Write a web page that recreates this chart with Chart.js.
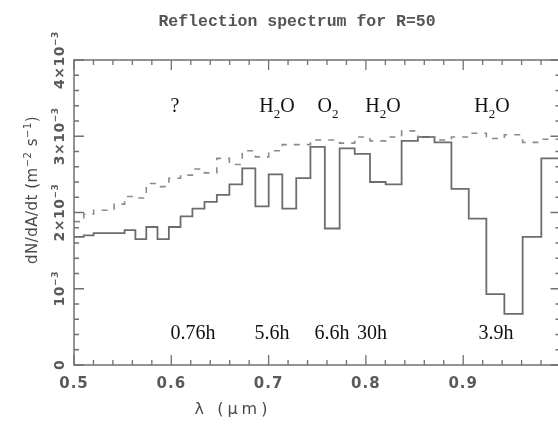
<!DOCTYPE html>
<html>
<head>
<meta charset="utf-8">
<script src="https://cdn.jsdelivr.net/npm/chart.js@4/dist/chart.umd.min.js"></script>
<style>
  html, body { margin: 0; padding: 0; background: #fff; overflow: hidden; }
  #wrap { width: 575px; height: 427px; }
</style>
</head>
<body>
<div id="wrap"><canvas id="c" width="575" height="427"></canvas></div>
<script>
// Wavelength bin edges in µm (constant resolving power R = 50)
const binEdges = [0.5000, 0.5100, 0.5202, 0.5306, 0.5412, 0.5520, 0.5631, 0.5743, 0.5858,
  0.5975, 0.6095, 0.6217, 0.6341, 0.6468, 0.6597, 0.6729, 0.6864, 0.7001, 0.7141, 0.7284,
  0.7430, 0.7578, 0.7730, 0.7885, 0.8042, 0.8203, 0.8367, 0.8534, 0.8705, 0.8879, 0.9057,
  0.9238, 0.9423, 0.9611, 0.9803, 1.0000];

// Reflected photon flux per bin, in units of 10^-3 m^-2 s^-1
const fluxAbsorbed = [1.68, 1.70, 1.73, 1.73, 1.73, 1.77, 1.65, 1.81, 1.65, 1.81, 1.95, 2.05,
  2.14, 2.23, 2.37, 2.58, 2.08, 2.50, 2.05, 2.45, 2.86, 1.79, 2.84, 2.77, 2.40, 2.37, 2.94,
  2.99, 2.92, 2.31, 1.92, 0.93, 0.67, 1.68, 2.71];
const fluxContinuum = [1.88, 1.98, 2.03, 2.03, 2.11, 2.21, 2.19, 2.38, 2.34, 2.45, 2.49, 2.57,
  2.52, 2.71, 2.63, 2.81, 2.73, 2.81, 2.89, 2.89, 2.95, 2.95, 2.91, 2.99, 2.94, 2.99, 3.07,
  2.99, 2.95, 2.99, 3.04, 2.97, 3.02, 2.92, 2.96];

// Axis ticks
const xTickValues = [0.5, 0.6, 0.7, 0.8, 0.9];
const xTickLabels = ['0.5', '0.6', '0.7', '0.8', '0.9'];
const yTickValues = [0, 1, 2, 3, 4];
const yTickLabels = ['0', '10^{−3}', '2×10^{−3}', '3×10^{−3}', '4×10^{−3}'];

// Absorber names and integration times for the bands
const bandNames = ['?', 'H_{2}O', 'O_{2}', 'H_{2}O', 'H_{2}O'];
const bandLambda = [0.6038, 0.7086, 0.7610, 0.8176, 0.9296];
const bandTimes = ['0.76h', '5.6h', '6.6h', '30h', '3.9h'];
const timeLambda = [0.6223, 0.7035, 0.7652, 0.8063, 0.9337];
const bandLevel = 3.41;
const timeLevel = 0.43;

const titleText = 'Reflection spectrum for R=50';
const xTitle = 'λ (μm)';
const yTitle = 'dN/dA/dt (m^{−2} s^{−1})';

// Histogram outline: one point per left bin edge, closed at the last edge
function stepPoints(values) {
  const pts = values.map((v, i) => ({ x: binEdges[i], y: v }));
  pts.push({ x: binEdges[binEdges.length - 1], y: values[values.length - 1] });
  return pts;
}

// Split "a^{b}c_{d}" into runs: 0 normal, 1 superscript, -1 subscript
function parseRich(s) {
  const parts = [];
  const re = /(\^\{[^}]*\}|_\{[^}]*\})/g;
  let last = 0, m;
  while ((m = re.exec(s)) !== null) {
    if (m.index > last) parts.push([s.slice(last, m.index), 0]);
    parts.push([m[0].slice(2, -1), m[0][0] === '^' ? 1 : -1]);
    last = re.lastIndex;
  }
  if (last < s.length) parts.push([s.slice(last), 0]);
  return parts;
}

function drawRich(ctx, text, cx, cy, family, size, color, spacing, weight) {
  const parts = parseRich(text);
  const w8 = weight ? weight + ' ' : '';
  const fontFor = (k) => w8 + (k === 0 ? size : Math.round(size * 0.66)) + 'px ' + family;
  ctx.fillStyle = color;
  ctx.textAlign = 'left';
  ctx.textBaseline = 'alphabetic';
  ctx.letterSpacing = (spacing || 0) + 'px';
  let w = 0;
  parts.forEach(([t, k]) => { ctx.font = fontFor(k); w += ctx.measureText(t).width; });
  let x = cx - w / 2;
  const base = cy + size * 0.36;
  parts.forEach(([t, k]) => {
    ctx.font = fontFor(k);
    const dy = k === 1 ? -size * 0.42 : (k === -1 ? size * 0.3 : 0);
    ctx.fillText(t, x, base + dy);
    x += ctx.measureText(t).width;
  });
  ctx.letterSpacing = '0px';
}

const frameAndLabels = {
  id: 'frameAndLabels',
  afterDraw(chart) {
    const { ctx, chartArea: a, scales } = chart;
    const xs = scales.x, ys = scales.y;
    ctx.save();
    ctx.strokeStyle = '#707070';
    ctx.lineWidth = 1.5;
    ctx.strokeRect(a.left, a.top, a.right - a.left, a.bottom - a.top);

    // inward ticks on all four sides
    ctx.lineWidth = 1.3;
    ctx.beginPath();
    for (let i = 0; i <= 25; i++) {
      const px = xs.getPixelForValue(0.5 + i * 0.02);
      const len = i % 5 === 0 ? 10 : 5;
      ctx.moveTo(px, a.bottom); ctx.lineTo(px, a.bottom - len);
      ctx.moveTo(px, a.top); ctx.lineTo(px, a.top + len);
    }
    for (let i = 0; i <= 20; i++) {
      const py = ys.getPixelForValue(i * 0.2);
      const len = i % 5 === 0 ? 10 : 5;
      ctx.moveTo(a.left, py); ctx.lineTo(a.left + len, py);
      ctx.moveTo(a.right, py); ctx.lineTo(a.right - len, py);
    }
    ctx.stroke();

    const axisFont = '"DejaVu Sans"';
    const axisColor = '#5a5a5a';

    // x tick labels
    xTickValues.forEach((v, i) => {
      drawRich(ctx, xTickLabels[i], xs.getPixelForValue(v), a.bottom + 18, axisFont, 15, axisColor, 1, 'bold');
    });

    // y tick labels, rotated
    yTickValues.forEach((v, i) => {
      ctx.save();
      ctx.translate(a.left - 15, ys.getPixelForValue(v));
      ctx.rotate(-Math.PI / 2);
      drawRich(ctx, yTickLabels[i], 0, 0, axisFont, 14, axisColor, 0.5, 'bold');
      ctx.restore();
    });

    // axis titles
    drawRich(ctx, xTitle, 233, 408, axisFont, 16, '#4a4a4a', 4);
    ctx.save();
    ctx.translate(32, 190);
    ctx.rotate(-Math.PI / 2);
    drawRich(ctx, yTitle, 0, 0, axisFont, 15, '#4a4a4a', 0.5);
    ctx.restore();

    // title
    drawRich(ctx, titleText, 297, 20, '"Liberation Mono"', 16.5, '#555', 0, 'bold');

    // band annotations
    const serif = '"Liberation Serif"';
    bandNames.forEach((t, i) => {
      drawRich(ctx, t, xs.getPixelForValue(bandLambda[i]), ys.getPixelForValue(bandLevel), serif, 20, '#111', 0);
    });
    bandTimes.forEach((t, i) => {
      drawRich(ctx, t, xs.getPixelForValue(timeLambda[i]), ys.getPixelForValue(timeLevel), serif, 20, '#111', 0);
    });
    ctx.restore();
  }
};

new Chart(document.getElementById('c'), {
  type: 'line',
  data: {
    datasets: [
      {
        label: 'continuum',
        data: stepPoints(fluxContinuum),
        stepped: true,
        borderColor: '#8a8a8a',
        borderWidth: 1.6,
        borderDash: [6, 7],
        pointRadius: 0,
        fill: false
      },
      {
        label: 'with absorption',
        data: stepPoints(fluxAbsorbed),
        stepped: true,
        borderColor: '#6c6c6c',
        borderWidth: 1.8,
        pointRadius: 0,
        fill: false
      }
    ]
  },
  options: {
    responsive: false,
    animation: false,
    layout: { padding: { left: 74, right: 14.5, top: 60, bottom: 62 } },
    plugins: { legend: { display: false }, tooltip: { enabled: false }, title: { display: false } },
    scales: {
      x: { type: 'linear', min: 0.5, max: 1.0, display: false },
      y: { type: 'linear', min: 0, max: 4, display: false }
    }
  },
  plugins: [frameAndLabels]
});
</script>
</body>
</html>
